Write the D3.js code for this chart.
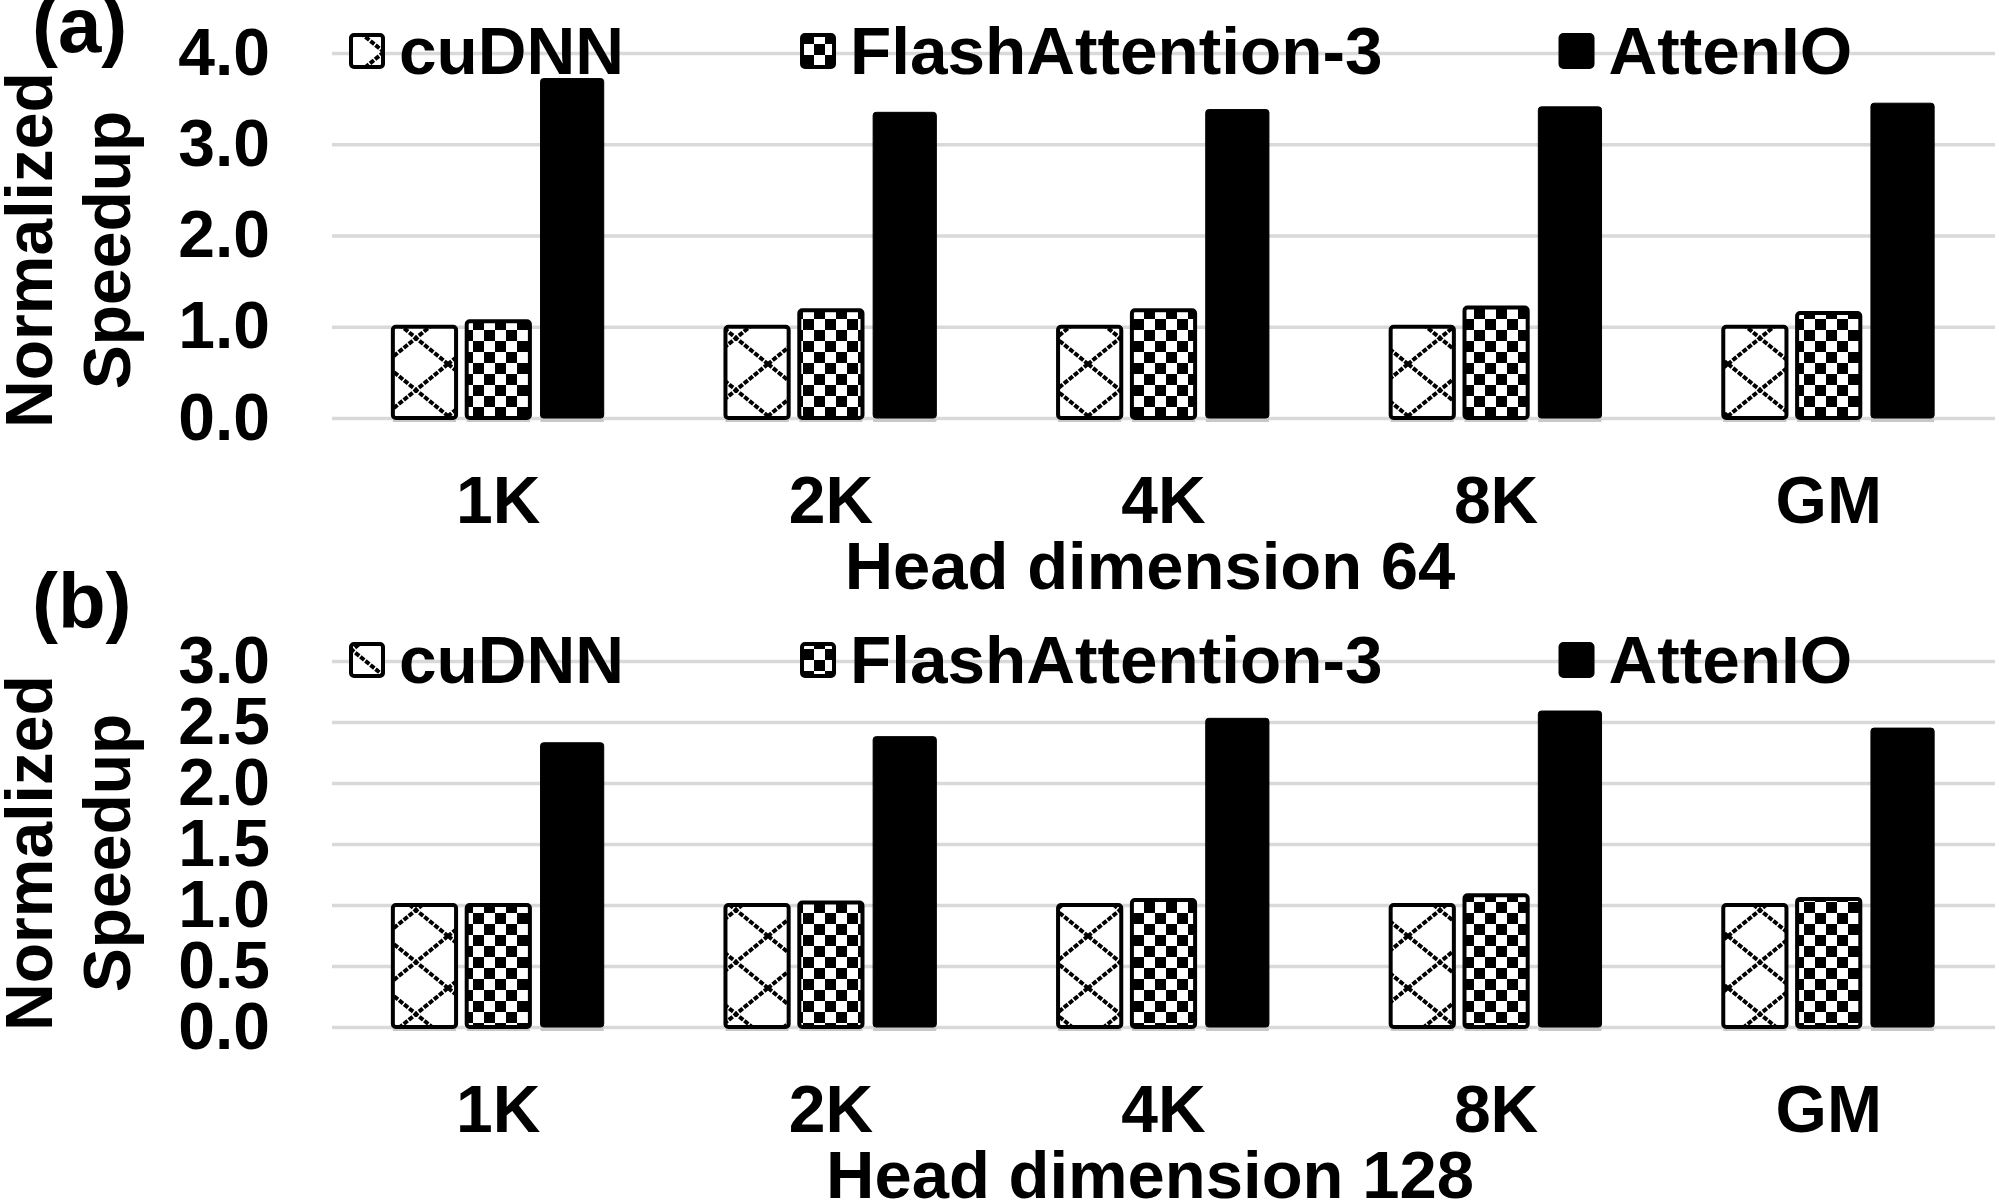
<!DOCTYPE html>
<html>
<head>
<meta charset="utf-8">
<script src="https://cdn.jsdelivr.net/npm/d3@7"></script>
<style>
  body { margin: 0; background: white; }
  text { font-family: "Liberation Sans", Arial, sans-serif; font-weight: bold; fill: black; }
</style>
</head>
<body>
<div id="chart"></div>
<script>
// data
const categories = ["1K", "2K", "4K", "8K", "GM"];
const series_names = ["cuDNN", "FlashAttention-3", "AttenIO"];

const cudnn_64 = [1.0, 1.0, 1.0, 1.0, 1.0];
const fa3_64 = [1.06, 1.18, 1.18, 1.21, 1.15];
const attenio_64 = [3.72, 3.35, 3.38, 3.41, 3.45];

const cudnn_128 = [1.0, 1.0, 1.0, 1.0, 1.0];
const fa3_128 = [1.0, 1.02, 1.04, 1.08, 1.05];
const attenio_128 = [2.33, 2.38, 2.53, 2.59, 2.45];

const ticks_64 = [0, 1, 2, 3, 4];
const ticks_128 = [0, 0.5, 1, 1.5, 2, 2.5, 3];

const panel_tags = ["(a)", "(b)"];
const panel_titles = ["Head dimension 64", "Head dimension 128"];
const y_title = ["Normalized", "Speedup"];

const W = 1999, H = 1203;
const FONT = 66;
const fills = ["url(#pat_cudnn)", "url(#pat_fa3)", "black"];

class BARPANEL {
  constructor(svg, top, bottom, ymax, ticks) {
    this.svg = svg;
    this.g = svg.append("g");
    this.x = d3.scaleBand().domain(categories).range([332, 1995]);
    this.y = d3.scaleLinear().domain([0, ymax]).range([bottom, top]);
    this.ticks = ticks;
    this.top = top;
    this.bottom = bottom;
  }

  writeGrid() {
    var grid = this.g.append("g")
      .attr("transform", "translate(332,0)")
      .call(d3.axisLeft(this.y).tickValues(this.ticks).tickSize(-(1995 - 332)).tickFormat(""));
    grid.select(".domain").remove();
    grid.selectAll("line").attr("stroke", "#d9d9d9").attr("stroke-width", 3.5);

    var yax = this.g.append("g")
      .attr("transform", "translate(332,0)")
      .call(d3.axisLeft(this.y).tickValues(this.ticks).tickSize(0).tickPadding(62).tickFormat(d3.format(".1f")));
    yax.select(".domain").remove();
    yax.selectAll("text")
      .attr("font-family", null)
      .style("font-size", FONT + "px");
  }

  writeBars(data) {
    var bw = this.x.bandwidth();
    var bar_w = bw * 0.19;
    var step = bw * 0.222;
    var y = this.y;
    var x = this.x;
    var base = this.bottom;

    for (var s = 0; s < data.length; s++) {
      var off = (s - 1) * step - bar_w / 2;
      var grp = this.g.append("g");
      // light shadow under each bar, like the excel export
      grp.selectAll("rect.sh").data(data[s]).enter().append("rect")
        .attr("x", (d, i) => x(categories[i]) + bw / 2 + off)
        .attr("y", d => y(d) + 4)
        .attr("width", bar_w)
        .attr("height", d => base - y(d))
        .attr("fill", "#c8c8c8");
      grp.selectAll("rect.bar").data(data[s]).enter().append("rect")
        .attr("x", (d, i) => x(categories[i]) + bw / 2 + off)
        .attr("y", d => y(d))
        .attr("width", bar_w)
        .attr("height", d => base - y(d))
        .attr("rx", 3)
        .attr("fill", fills[s])
        .attr("stroke", "black")
        .attr("stroke-width", s == 2 ? 1 : 4);
    }
  }

  writeCats(ypos) {
    var xax = this.g.append("g")
      .attr("transform", "translate(0," + ypos + ")")
      .call(d3.axisBottom(this.x).tickSize(0).tickPadding(0));
    xax.select(".domain").remove();
    xax.selectAll("text")
      .attr("font-family", null)
      .attr("dy", null)
      .attr("y", 0)
      .style("font-size", FONT + "px");
  }

  writeLegend(cy) {
    var x_pointer = 351;
    for (var p = 0; p < series_names.length; p++) {
      this.g.append("rect")
        .attr("x", x_pointer)
        .attr("y", cy - 16)
        .attr("width", 32)
        .attr("height", 32)
        .attr("rx", 3)
        .attr("fill", fills[p])
        .attr("stroke", "black")
        .attr("stroke-width", 4);
      var t = this.g.append("text")
        .attr("x", x_pointer + 48)
        .attr("y", cy + 23)
        .style("font-size", "67.5px")
        .text(series_names[p]);
      x_pointer = x_pointer + 48 + t.node().getComputedTextLength() + 178;
    }
  }

  writeTexts(tag, tag_y, title, title_y, ymid) {
    this.g.append("text")
      .attr("x", 32)
      .attr("y", tag_y)
      .style("font-size", "78px")
      .text(tag);
    this.g.append("text")
      .attr("x", 1150)
      .attr("y", title_y)
      .attr("text-anchor", "middle")
      .style("font-size", "67px")
      .text(title);
    var xs = [52, 130];
    for (var k = 0; k < y_title.length; k++) {
      this.g.append("text")
        .attr("transform", "translate(" + xs[k] + "," + ymid + ") rotate(-90)")
        .attr("text-anchor", "middle")
        .style("font-size", FONT + "px")
        .text(y_title[k]);
    }
  }
}

var svg = d3.select("#chart").append("svg")
  .attr("width", W)
  .attr("height", H);

svg.append("rect").attr("width", W).attr("height", H).attr("fill", "white");

var defs = svg.append("defs");
var pc = defs.append("pattern")
  .attr("id", "pat_cudnn")
  .attr("patternUnits", "userSpaceOnUse")
  .attr("width", 64)
  .attr("height", 52);
pc.append("rect").attr("width", 64).attr("height", 52).attr("fill", "white");
pc.append("path")
  .attr("d", "M0,0L64,52M64,0L0,52")
  .attr("stroke", "black")
  .attr("stroke-width", 4)
  .attr("stroke-dasharray", "5,1.5");

var pf = defs.append("pattern")
  .attr("id", "pat_fa3")
  .attr("patternUnits", "userSpaceOnUse")
  .attr("width", 22)
  .attr("height", 22);
pf.append("rect").attr("width", 22).attr("height", 22).attr("fill", "white");
pf.append("rect").attr("width", 11).attr("height", 11).attr("fill", "black");
pf.append("rect").attr("x", 11).attr("y", 11).attr("width", 11).attr("height", 11).attr("fill", "black");

// panel (a)
var pa = new BARPANEL(svg, 53, 418, 4, ticks_64);
pa.writeGrid();
pa.writeLegend(51);
pa.writeBars([cudnn_64, fa3_64, attenio_64]);
pa.writeCats(523);
pa.writeTexts(panel_tags[0], 52, panel_titles[0], 589, 250);

// panel (b)
var pb = new BARPANEL(svg, 661, 1027, 3, ticks_128);
pb.writeGrid();
pb.writeLegend(660);
pb.writeBars([cudnn_128, fa3_128, attenio_128]);
pb.writeCats(1132);
pb.writeTexts(panel_tags[1], 628, panel_titles[1], 1198, 853);
</script>
</body>
</html>
